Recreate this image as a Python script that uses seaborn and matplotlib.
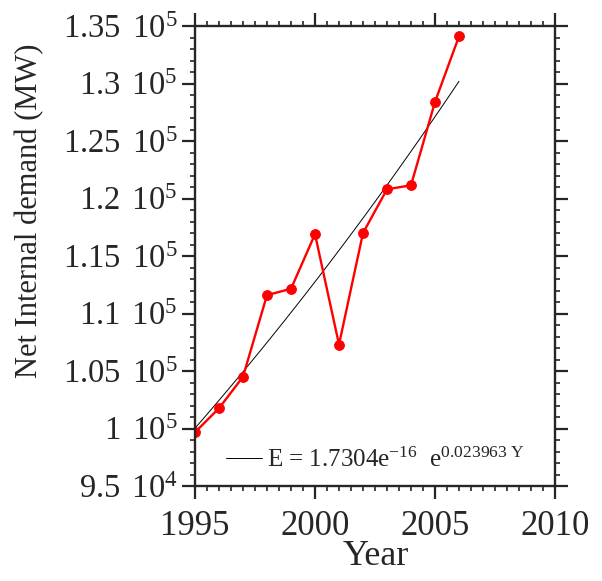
import matplotlib
matplotlib.use("Agg")
import matplotlib.pyplot as plt
import seaborn as sns
import numpy as np
import pandas as pd
from matplotlib.ticker import MultipleLocator, FixedLocator

years = [1995, 1996, 1997, 1998, 1999, 2000, 2001, 2002, 2003, 2004, 2005, 2006]
demand = [99670, 101760, 104500, 111600, 112150, 116900, 107300, 117000, 120800, 121150, 128400, 134100]

# fit shown in the chart legend: E = a * exp(b * Y)
fit_a = 1.7304e-16
fit_b = 0.023963
fit_years = [1995, 2006]

y_ticks = [95000, 100000, 105000, 110000, 115000, 120000, 125000, 130000, 135000]
y_tick_labels = ["9.5 $\\,$10$^{4}$", "1 $\\,$10$^{5}$", "1.05 $\\,$10$^{5}$", "1.1 $\\,$10$^{5}$",
                 "1.15 $\\,$10$^{5}$", "1.2 $\\,$10$^{5}$", "1.25 $\\,$10$^{5}$", "1.3 $\\,$10$^{5}$",
                 "1.35 $\\,$10$^{5}$"]
x_ticks = [1995, 2000, 2005, 2010]

sns.set_style("ticks")
plt.rcParams['font.family'] = ['Liberation Serif', 'DejaVu Serif']
plt.rcParams['mathtext.fontset'] = 'custom'
plt.rcParams['mathtext.rm'] = 'Liberation Serif'
plt.rcParams['mathtext.it'] = 'Liberation Serif:italic'
plt.rcParams['mathtext.default'] = 'regular'

fig = plt.figure(figsize=(6.02, 5.81), dpi=100)
ax = fig.add_axes([195/602, 1-486/581, 360/602, 460/581])

fy = np.linspace(fit_years[0], fit_years[1], 50)
fit_df = pd.DataFrame({"Year": fy, "E": fit_a * np.exp(fit_b * fy)})
df = pd.DataFrame({"Year": years, "E": demand})

sns.lineplot(data=fit_df, x="Year", y="E", ax=ax, color="black", linewidth=0.7,
             label="E = 1.7304e$^{-16}$  e$^{0.023963\\ Y}$")
sns.lineplot(data=df, x="Year", y="E", ax=ax, color="#ff0000", linewidth=1.7,
             marker="o", markersize=7, markeredgecolor="#ff0000", legend=False)

ax.set_xlim(1995, 2010)
ax.set_ylim(95000, 135000)
ax.xaxis.set_major_locator(FixedLocator(x_ticks))
ax.xaxis.set_minor_locator(MultipleLocator(0.5))
ax.yaxis.set_major_locator(FixedLocator(y_ticks))
ax.yaxis.set_minor_locator(MultipleLocator(1000))
ax.set_xticklabels([str(t) for t in x_ticks])
ax.set_yticklabels(y_tick_labels)

ax.tick_params(which='major', direction='out', length=9.5, width=1.6,
               top=True, right=True)
ax.tick_params(axis='x', which='major', pad=8, labelsize=25)
ax.tick_params(axis='y', which='major', pad=3, labelsize=23.5)
ax.tick_params(which='minor', direction='out', length=3.5, width=1.2, top=True, right=True)
for s in ax.spines.values():
    s.set_linewidth(1.7)
    s.set_visible(True)

ax.set_xlabel("Year", fontsize=26)
ax.set_ylabel("Net Internal demand (MW)", fontsize=22)
ax.xaxis.set_label_coords(0.501, -0.117)
ax.yaxis.set_label_coords(-0.42, 0.598)

leg = ax.legend(loc='lower left', bbox_to_anchor=(0.052, 0.004), frameon=False,
                fontsize=18, handlelength=1.45, handletextpad=0.2, borderpad=0)

fig.savefig("out.png", dpi=100)
